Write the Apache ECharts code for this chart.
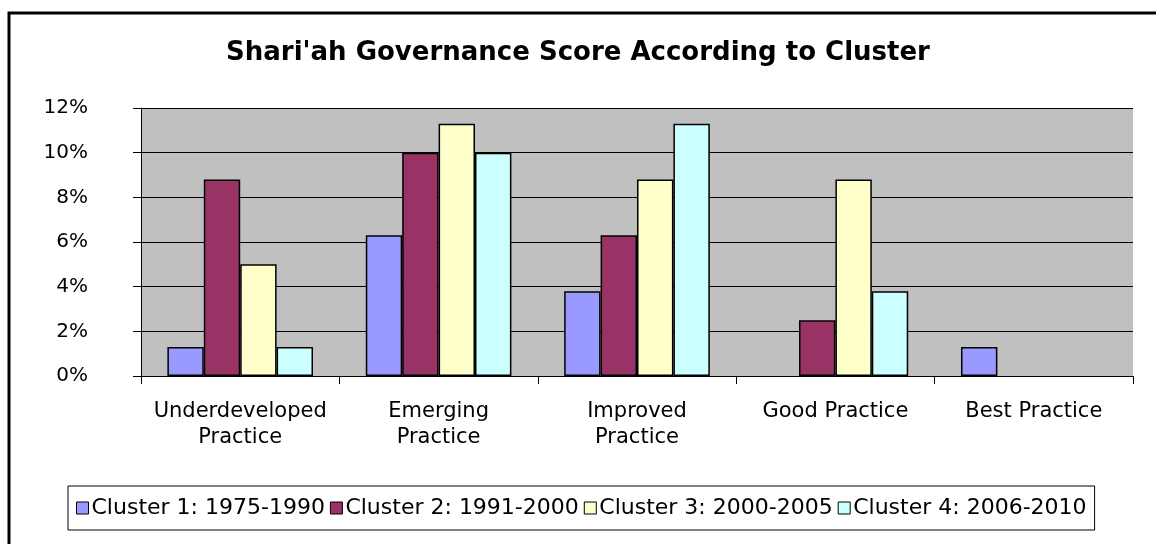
<!DOCTYPE html>
<html>
<head>
<meta charset="utf-8">
<script src="https://cdn.jsdelivr.net/npm/echarts@6/dist/echarts.min.js"></script>
<style>
html,body{margin:0;padding:0;background:#fff;}
#chart{width:1156px;height:544px;}
</style>
</head>
<body>
<div id="chart"></div>
<script>
const categories = ["Underdeveloped\nPractice", "Emerging\nPractice", "Improved\nPractice", "Good Practice", "Best Practice"];
const seriesNames = ["Cluster 1: 1975-1990", "Cluster 2: 1991-2000", "Cluster 3: 2000-2005", "Cluster 4: 2006-2010"];
const cluster1 = [1.3, 6.3, 3.8, 0, 1.3];
const cluster2 = [8.8, 10.0, 6.3, 2.5, 0];
const cluster3 = [5.0, 11.3, 8.8, 8.8, 0];
const cluster4 = [1.3, 10.0, 11.3, 3.8, 0];
const yTicks = [0, 2, 4, 6, 8, 10, 12];

const colors = ["#9999ff", "#993366", "#ffffcc", "#ccffff"];
const seriesData = [cluster1, cluster2, cluster3, cluster4];
const FONT = "DejaVu Sans";

const chart = echarts.init(document.getElementById('chart'), null, {renderer: 'canvas'});
chart.setOption({
  animation: false,
  backgroundColor: '#ffffff',
  textStyle: {fontFamily: FONT, color: '#000'},
  graphic: [{
    type: 'rect', silent: true, z: -10,
    shape: {x: 9, y: 13, width: 1200, height: 600},
    style: {fill: 'none', stroke: '#000', lineWidth: 3}
  }],
  title: {
    text: "Shari'ah Governance Score According to Cluster",
    left: 'center', top: 40, padding: 0,
    textStyle: {fontFamily: FONT, fontSize: 26, fontWeight: 'bold', color: '#000'}
  },
  grid: {
    left: 141, right: 23, top: 108, bottom: 168,
    show: true, backgroundColor: '#c0c0c0', borderWidth: 0
  },
  legend: {
    left: 68, top: 486,
    padding: [11, 8, 11, 8],
    borderColor: '#000', borderWidth: 1,
    backgroundColor: '#fff',
    icon: 'rect', itemWidth: 12, itemHeight: 12, itemGap: 5,
    textStyle: {fontFamily: FONT, fontSize: 22, color: '#000', padding: [0, 0, 0, -2]},
    itemStyle: {borderColor: '#000', borderWidth: 1},
    data: seriesNames
  },
  xAxis: {
    type: 'category',
    data: categories,
    axisLine: {show: true, lineStyle: {color: '#000', width: 1}},
    axisTick: {show: true, length: 8, lineStyle: {color: '#000'}},
    axisLabel: {fontFamily: FONT, fontSize: 21, color: '#000', margin: 23, lineHeight: 26, interval: 0}
  },
  yAxis: {
    type: 'value', min: 0, max: 12, interval: 2,
    axisLine: {show: true, lineStyle: {color: '#000', width: 1}},
    axisTick: {show: true, length: 8, lineStyle: {color: '#000'}},
    splitLine: {show: true, lineStyle: {color: '#000', width: 1}},
    axisLabel: {fontFamily: FONT, fontSize: 20, color: '#000', margin: 53,
      formatter: function (v) { return yTicks.indexOf(v) >= 0 ? v + '%' : ''; }}
  },
  series: seriesData.map(function (d, i) {
    return {
      name: seriesNames[i], type: 'bar',
      data: d.map(function (v) { return v === 0 ? '-' : v; }),
      barGap: '0%', barCategoryGap: '26.6%',
      itemStyle: {color: colors[i], borderColor: '#000', borderWidth: 1.5}
    };
  })
});
</script>
</body>
</html>
